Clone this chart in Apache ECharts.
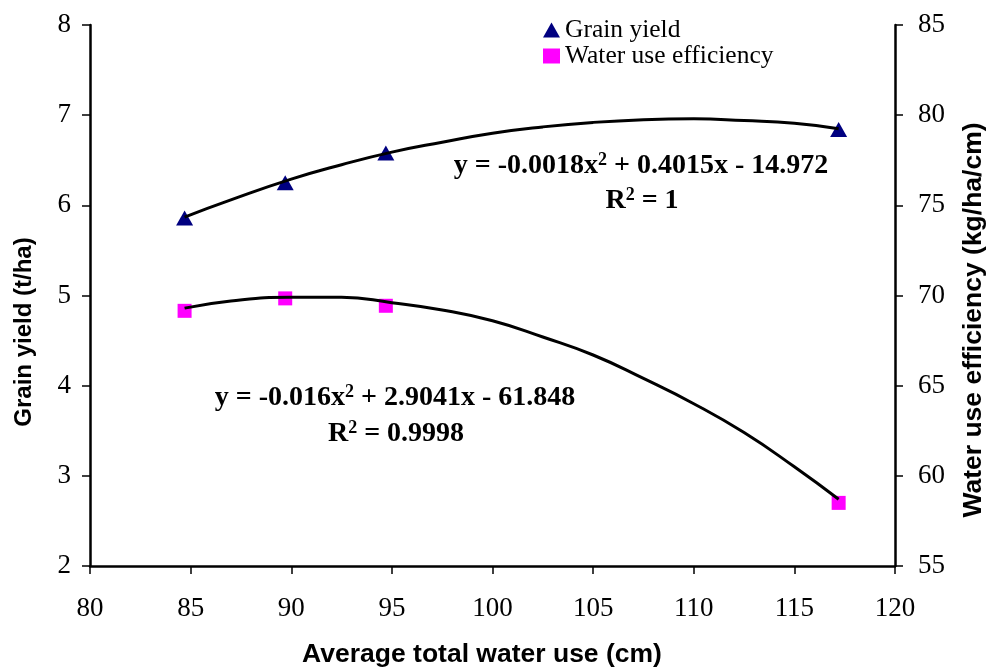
<!DOCTYPE html>
<html>
<head>
<meta charset="utf-8">
<script src="https://cdn.jsdelivr.net/npm/echarts@6/dist/echarts.min.js"></script>
<style>html,body{margin:0;padding:0;background:#fff}#c{width:988px;height:670px}</style>
</head>
<body>
<div id="c"></div>
<script>
// Observed data points
const waterUse = [84.7, 89.7, 94.7, 117.2];
const grainYield = [5.86, 6.25, 6.58, 6.84];
const wue = [69.15, 69.84, 69.43, 58.5];

// Trendline values
const trendX = [84.7, 87, 90, 92.5, 95, 97.5, 100, 102.5, 105, 107.5, 110, 112.5, 115, 117.2];
const grainTrend = [5.87, 6.06, 6.29, 6.45, 6.59, 6.70, 6.80, 6.87, 6.92, 6.95, 6.96, 6.94, 6.91, 6.85];
const wueTrend = [69.3, 69.7, 69.9, 69.9, 69.6, 69.2, 68.6, 67.7, 66.7, 65.4, 64.0, 62.4, 60.5, 58.7];

const xTicks = [80, 120, 5];
const yLeft = [2, 8, 1];
const yRight = [55, 85, 5];

const serif = 'Liberation Serif';
const sans = 'Liberation Sans';

const pairs = (xs, ys) => xs.map((x, i) => [x, ys[i]]);

const chart = echarts.init(document.getElementById('c'));
const axisCommon = {
  axisLine: {show: true, onZero: false, lineStyle: {color: '#000', width: 2.5}},
  axisTick: {show: true, inside: false, length: 8, lineStyle: {color: '#000', width: 1.5}},
  splitLine: {show: false},
  axisLabel: {color: '#000', fontFamily: serif, fontSize: 27}
};
const eqRich = {
  b: {fontFamily: serif, fontWeight: 'bold', fontSize: 28, color: '#000', lineHeight: 30},
  s: {fontFamily: serif, fontWeight: 'bold', fontSize: 18, color: '#000', verticalAlign: 'top', lineHeight: 30}
};
const txt = (x, y, text, extra) => Object.assign({
  type: 'text', x: x, y: y,
  style: Object.assign({text: text, align: 'center', verticalAlign: 'middle', textAlign: 'center', textVerticalAlign: 'middle'}, extra.style)
}, extra.el || {});
const titleStyle = (size) => ({fontFamily: sans, fontWeight: 'bold', fontSize: size, fill: '#000',
  font: 'bold ' + size + 'px "' + sans + '"'});

chart.setOption({
  animation: false,
  backgroundColor: '#fff',
  grid: {left: 90, right: 93, top: 25, bottom: 104},
  legend: {
    data: ['Grain yield', 'Water use efficiency'],
    orient: 'vertical', left: 538, top: 12,
    itemWidth: 17, itemHeight: 15, itemGap: 0,
    textStyle: {fontFamily: serif, fontSize: 25.5, color: '#000'}
  },
  xAxis: Object.assign({}, axisCommon, {
    type: 'value', min: xTicks[0], max: xTicks[1], interval: xTicks[2],
    axisLabel: Object.assign({}, axisCommon.axisLabel, {margin: 29})
  }),
  yAxis: [
    Object.assign({}, axisCommon, {
      type: 'value', min: yLeft[0], max: yLeft[1], interval: yLeft[2], position: 'left',
      axisLabel: Object.assign({}, axisCommon.axisLabel, {margin: 19})
    }),
    Object.assign({}, axisCommon, {
      type: 'value', min: yRight[0], max: yRight[1], interval: yRight[2], position: 'right',
      axisLabel: Object.assign({}, axisCommon.axisLabel, {margin: 23})
    })
  ],
  series: [
    {name: 'Grain yield', type: 'scatter', yAxisIndex: 0, symbol: 'triangle', symbolSize: [17, 15],
     itemStyle: {color: '#000080', opacity: 1}, data: pairs(waterUse, grainYield), z: 2},
    {name: 'Water use efficiency', type: 'scatter', yAxisIndex: 1, symbol: 'rect', symbolSize: 14,
     itemStyle: {color: '#FF00FF', opacity: 1}, data: pairs(waterUse, wue), z: 2},
    {name: 'gy trend', type: 'line', yAxisIndex: 0, smooth: true, showSymbol: false, symbol: 'none',
     lineStyle: {color: '#000', width: 3}, data: pairs(trendX, grainTrend), z: 3},
    {name: 'wue trend', type: 'line', yAxisIndex: 1, smooth: true, showSymbol: false, symbol: 'none',
     lineStyle: {color: '#000', width: 3}, data: pairs(trendX, wueTrend), z: 3}
  ],
  graphic: [
    txt(641, 166, '{b|y = -0.0018x}{s|2}{b| + 0.4015x - 14.972}', {style: {rich: eqRich}}),
    txt(642, 201, '{b|R}{s|2}{b| = 1}', {style: {rich: eqRich}}),
    txt(395, 398, '{b|y = -0.016x}{s|2}{b| + 2.9041x - 61.848}', {style: {rich: eqRich}}),
    txt(396, 434, '{b|R}{s|2}{b| = 0.9998}', {style: {rich: eqRich}}),
    txt(482, 655, 'Average total water use (cm)', {style: titleStyle(26.5)}),
    txt(24, 332, 'Grain yield (t/ha)', {style: titleStyle(24), el: {rotation: Math.PI / 2}}),
    txt(974, 320, 'Water use efficiency (kg/ha/cm)', {style: titleStyle(26.5), el: {rotation: Math.PI / 2}})
  ]
});
</script>
</body>
</html>
